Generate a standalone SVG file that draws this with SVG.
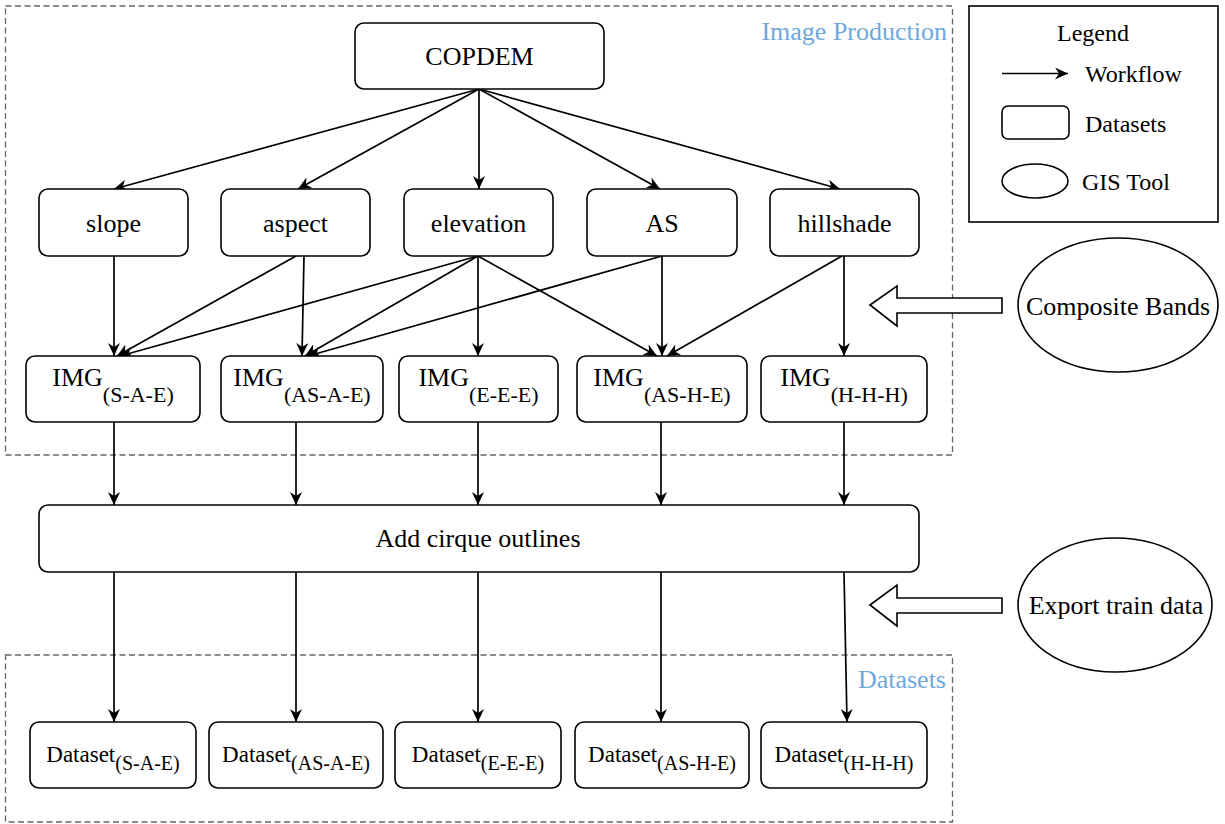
<svg xmlns="http://www.w3.org/2000/svg" width="1225" height="824" viewBox="0 0 1225 824">
<defs>
<style>
.box{fill:#fff;stroke:#000;stroke-width:1.6}
.dash{fill:none;stroke:#666;stroke-width:1.3;stroke-dasharray:6 3.5}
text{font-family:'Liberation Serif','Times New Roman',serif;fill:#000;stroke:none}
.t{font-size:26px}
.sub{font-size:22px}
.d{font-size:23px}
.dsub{font-size:20px}
.lg{font-size:24px}
.blue{font-size:26px;fill:#6fa8dc}
.c{fill:none;stroke:#000;stroke-width:1.7}
.hollow{fill:#fff;stroke:#000;stroke-width:1.6}
</style>
<marker id="arr" markerWidth="14" markerHeight="12" refX="13" refY="6" orient="auto" markerUnits="userSpaceOnUse">
<path d="M0,0 L13,6 L0,12 L4,6 Z" fill="#000"/>
</marker>
</defs>
<rect width="1225" height="824" fill="#fff"/>

<g id="group-image-production">
<rect class="dash" x="5.5" y="6" width="947" height="449"/>
<text class="blue" x="947" y="40" text-anchor="end">Image Production</text>
</g>
<g id="group-datasets">
<rect class="dash" x="5.5" y="655" width="947" height="167"/>
<text class="blue" x="946" y="688" text-anchor="end">Datasets</text>
</g>

<g id="connectors">
<line class="c" x1="479" y1="89" x2="114" y2="189" marker-end="url(#arr)"/>
<line class="c" x1="479" y1="89" x2="298" y2="189" marker-end="url(#arr)"/>
<line class="c" x1="479" y1="89" x2="479" y2="189" marker-end="url(#arr)"/>
<line class="c" x1="479" y1="89" x2="660" y2="189" marker-end="url(#arr)"/>
<line class="c" x1="479" y1="89" x2="840" y2="189" marker-end="url(#arr)"/>

<line class="c" x1="114" y1="256" x2="114" y2="356" marker-end="url(#arr)"/>
<line class="c" x1="296" y1="256" x2="117" y2="356" marker-end="url(#arr)"/>
<line class="c" x1="478" y1="256" x2="120" y2="356" marker-end="url(#arr)"/>
<line class="c" x1="304" y1="256" x2="302" y2="356" marker-end="url(#arr)"/>
<line class="c" x1="478" y1="256" x2="305" y2="356" marker-end="url(#arr)"/>
<line class="c" x1="662" y1="256" x2="308" y2="356" marker-end="url(#arr)"/>
<line class="c" x1="478" y1="256" x2="478" y2="356" marker-end="url(#arr)"/>
<line class="c" x1="478" y1="256" x2="657" y2="356" marker-end="url(#arr)"/>
<line class="c" x1="662" y1="256" x2="662" y2="356" marker-end="url(#arr)"/>
<line class="c" x1="842" y1="256" x2="667" y2="356" marker-end="url(#arr)"/>
<line class="c" x1="844" y1="256" x2="844" y2="356" marker-end="url(#arr)"/>

<line class="c" x1="114" y1="422" x2="114" y2="505" marker-end="url(#arr)"/>
<line class="c" x1="296" y1="422" x2="296" y2="505" marker-end="url(#arr)"/>
<line class="c" x1="478" y1="422" x2="478" y2="505" marker-end="url(#arr)"/>
<line class="c" x1="661" y1="422" x2="661" y2="505" marker-end="url(#arr)"/>
<line class="c" x1="844" y1="422" x2="844" y2="505" marker-end="url(#arr)"/>

<line class="c" x1="114" y1="572" x2="114" y2="722" marker-end="url(#arr)"/>
<line class="c" x1="296" y1="572" x2="296" y2="722" marker-end="url(#arr)"/>
<line class="c" x1="478" y1="572" x2="478" y2="722" marker-end="url(#arr)"/>
<line class="c" x1="661" y1="572" x2="661" y2="722" marker-end="url(#arr)"/>
<line class="c" x1="844" y1="572" x2="847" y2="722" marker-end="url(#arr)"/>

<polygon class="hollow" points="870,305 897,286 897,298 1002,298 1002,313 897,313 897,326"/>
<polygon class="hollow" points="870,605 897,585 897,598 1002,598 1002,613 897,613 897,626"/>
</g>

<g id="node-copdem"><rect class="box" x="355" y="23" width="249" height="66" rx="9"/><text class="t" x="479.5" y="65" text-anchor="middle">COPDEM</text></g>

<g id="node-slope"><rect class="box" x="39" y="189" width="149" height="67" rx="9"/><text class="t" x="113.5" y="231.5" text-anchor="middle">slope</text></g>
<g id="node-aspect"><rect class="box" x="221" y="189" width="149" height="67" rx="9"/><text class="t" x="295.5" y="231.5" text-anchor="middle">aspect</text></g>
<g id="node-elevation"><rect class="box" x="404" y="189" width="149" height="67" rx="9"/><text class="t" x="478.5" y="231.5" text-anchor="middle">elevation</text></g>
<g id="node-as"><rect class="box" x="587" y="189" width="150" height="67" rx="9"/><text class="t" x="662" y="231.5" text-anchor="middle">AS</text></g>
<g id="node-hillshade"><rect class="box" x="770" y="189" width="149" height="67" rx="9"/><text class="t" x="844.5" y="231.5" text-anchor="middle">hillshade</text></g>

<g id="node-img-sae"><rect class="box" x="26" y="356" width="174" height="66" rx="9"/><text class="t" x="113" y="386" text-anchor="middle">IMG<tspan class="sub" dy="16">(S-A-E)</tspan></text></g>
<g id="node-img-asae"><rect class="box" x="221" y="356" width="162" height="66" rx="9"/><text class="t" x="302" y="386" text-anchor="middle">IMG<tspan class="sub" dy="16">(AS-A-E)</tspan></text></g>
<g id="node-img-eee"><rect class="box" x="399" y="356" width="159" height="66" rx="9"/><text class="t" x="478.5" y="386" text-anchor="middle">IMG<tspan class="sub" dy="16">(E-E-E)</tspan></text></g>
<g id="node-img-ashe"><rect class="box" x="577" y="356" width="170" height="66" rx="9"/><text class="t" x="662" y="386" text-anchor="middle">IMG<tspan class="sub" dy="16">(AS-H-E)</tspan></text></g>
<g id="node-img-hhh"><rect class="box" x="761" y="356" width="166" height="66" rx="9"/><text class="t" x="844" y="386" text-anchor="middle">IMG<tspan class="sub" dy="16">(H-H-H)</tspan></text></g>

<g id="node-add-cirque"><rect class="box" x="39" y="505" width="880" height="67" rx="9"/><text class="t" x="478" y="547" text-anchor="middle">Add cirque outlines</text></g>

<g id="node-ds-sae"><rect class="box" x="30" y="722" width="166" height="66" rx="9"/><text class="d" x="113" y="762" text-anchor="middle">Dataset<tspan class="dsub" dy="8">(S-A-E)</tspan></text></g>
<g id="node-ds-asae"><rect class="box" x="209" y="722" width="174" height="66" rx="9"/><text class="d" x="296" y="762" text-anchor="middle">Dataset<tspan class="dsub" dy="8">(AS-A-E)</tspan></text></g>
<g id="node-ds-eee"><rect class="box" x="395" y="722" width="166" height="66" rx="9"/><text class="d" x="478" y="762" text-anchor="middle">Dataset<tspan class="dsub" dy="8">(E-E-E)</tspan></text></g>
<g id="node-ds-ashe"><rect class="box" x="575" y="722" width="174" height="66" rx="9"/><text class="d" x="662" y="762" text-anchor="middle">Dataset<tspan class="dsub" dy="8">(AS-H-E)</tspan></text></g>
<g id="node-ds-hhh"><rect class="box" x="761" y="722" width="166" height="66" rx="9"/><text class="d" x="844" y="762" text-anchor="middle">Dataset<tspan class="dsub" dy="8">(H-H-H)</tspan></text></g>

<g id="node-composite-bands"><ellipse class="box" cx="1118" cy="305" rx="100" ry="67"/><text class="t" x="1118" y="315" text-anchor="middle">Composite Bands</text></g>
<g id="node-export-train"><ellipse class="box" cx="1115" cy="605" rx="97" ry="67"/><text class="t" x="1116" y="614" text-anchor="middle">Export train data</text></g>

<g id="legend">
<rect class="box" x="969" y="6" width="249" height="216"/>
<text class="lg" x="1093" y="41" text-anchor="middle">Legend</text>
<line class="c" x1="1002" y1="73.5" x2="1068" y2="73.5" marker-end="url(#arr)"/>
<text class="lg" x="1085" y="82">Workflow</text>
<rect class="box" x="1002" y="106" width="67" height="33" rx="6"/>
<text class="lg" x="1085" y="131.5">Datasets</text>
<ellipse class="box" cx="1035" cy="181" rx="33" ry="17"/>
<text class="lg" x="1082" y="190">GIS Tool</text>
</g>
</svg>
